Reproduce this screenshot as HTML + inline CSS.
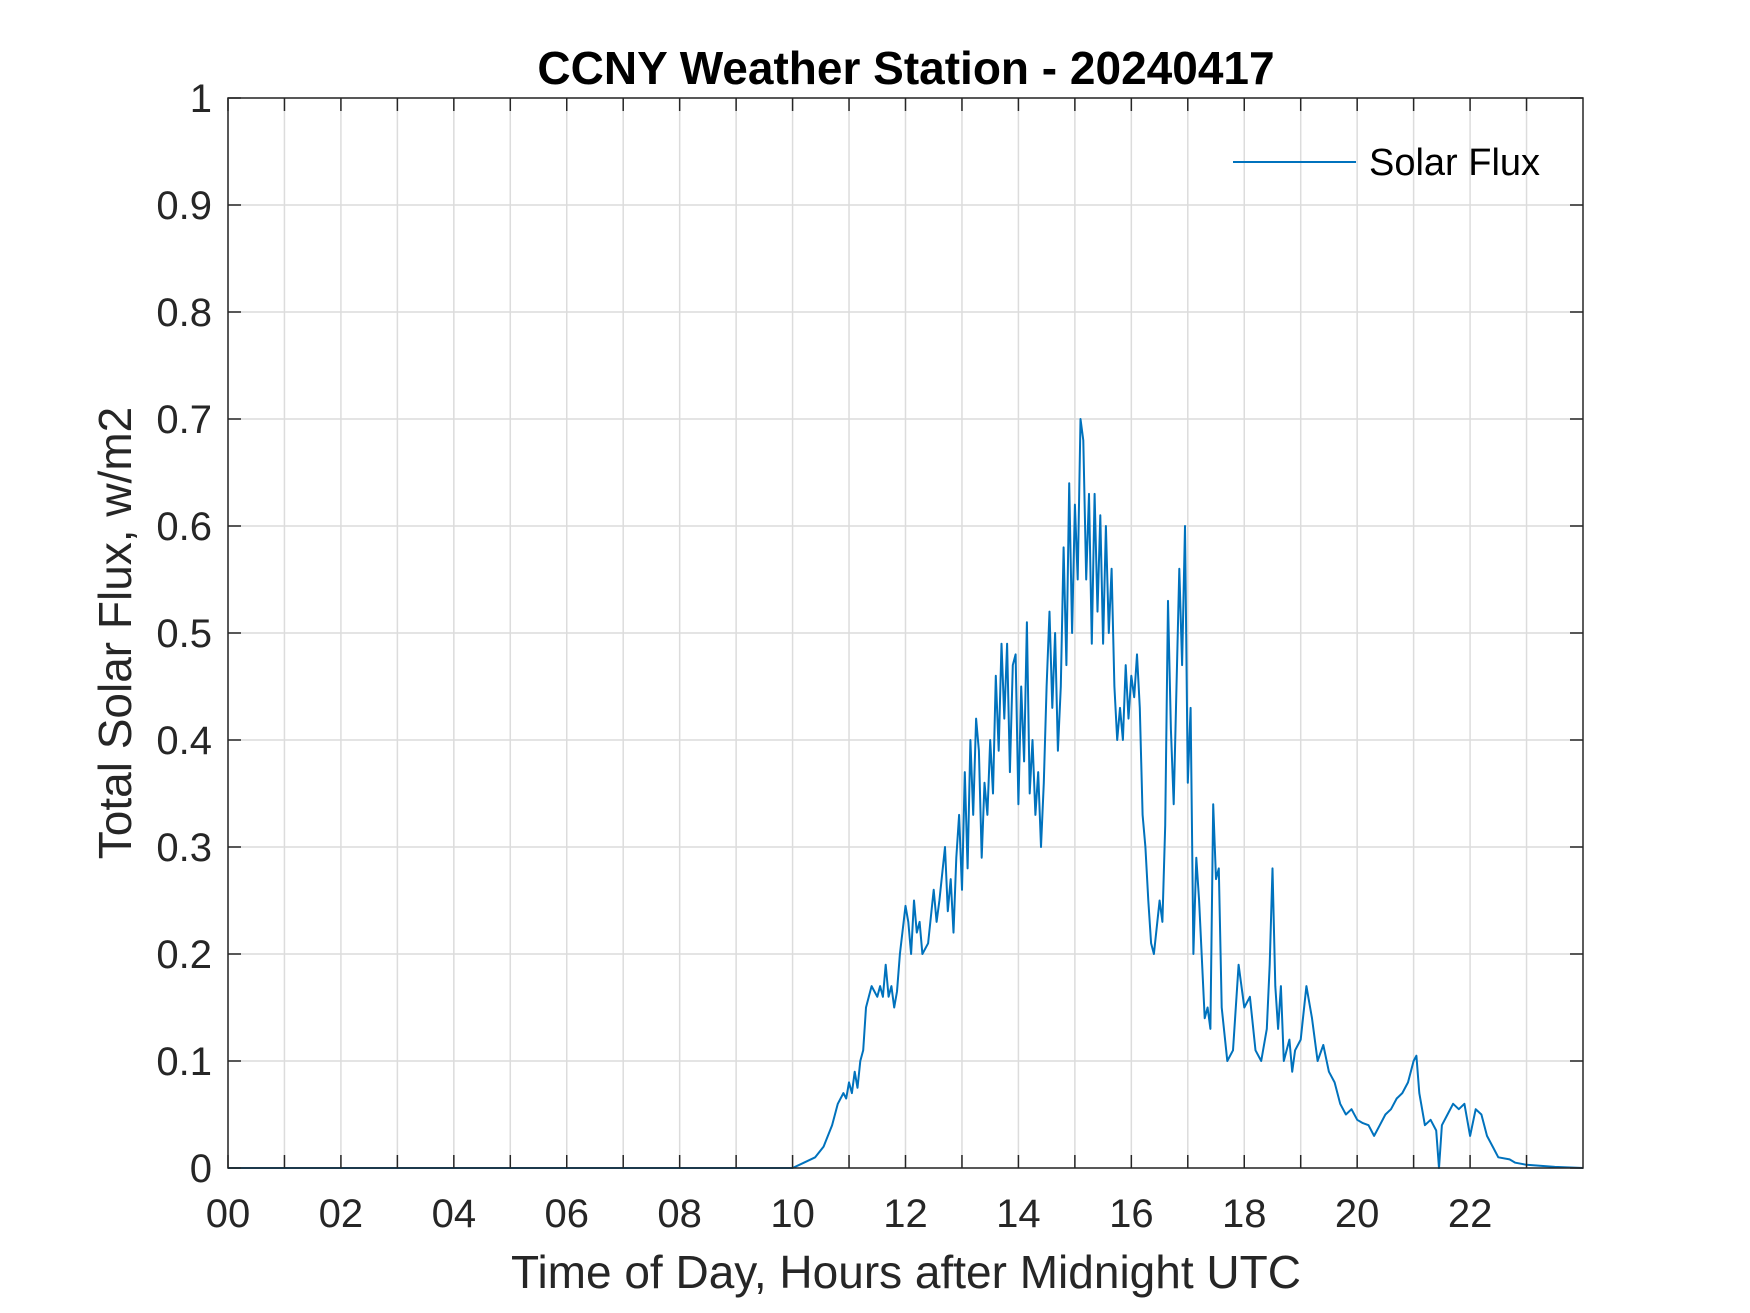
<!DOCTYPE html>
<html><head><meta charset="utf-8"><style>
html,body{margin:0;padding:0;background:#fff;}
svg{display:block;font-family:"Liberation Sans",Arial,sans-serif;}
</style></head><body>
<svg id="chart" width="1750" height="1313" viewBox="0 0 1750 1313">
<rect width="1750" height="1313" fill="#fff"/>
<g id="grid"></g>
<g id="series"></g>
<rect x="228" y="98" width="1355" height="1070" fill="none" stroke="#262626" stroke-width="1.5"/>
<g id="ticks"></g>
<text x="906" y="84" text-anchor="middle" font-size="46" font-weight="bold" fill="#000">CCNY Weather Station - 20240417</text>
<text x="906" y="1288" text-anchor="middle" font-size="46" fill="#262626">Time of Day, Hours after Midnight UTC</text>
<text transform="translate(131,633) rotate(-90)" text-anchor="middle" font-size="46" fill="#262626">Total Solar Flux, w/m2</text>
<g>
<line x1="1233" y1="162" x2="1356" y2="162" stroke="#0072bd" stroke-width="2"/>
<text x="1369" y="175" font-size="38" fill="#000">Solar Flux</text>
</g>
</svg>
<script>
const hours=[0,10,10.2,10.4,10.55,10.7,10.8,10.9,10.95,11,11.05,11.1,11.15,11.2,11.25,11.3,11.35,11.4,11.5,11.55,11.6,11.65,11.7,11.75,11.8,11.85,11.9,12,12.05,12.1,12.15,12.2,12.25,12.3,12.4,12.5,12.55,12.6,12.7,12.75,12.8,12.85,12.9,12.95,13,13.05,13.1,13.15,13.2,13.25,13.3,13.35,13.4,13.45,13.5,13.55,13.6,13.65,13.7,13.75,13.8,13.85,13.9,13.95,14,14.05,14.1,14.15,14.2,14.25,14.3,14.35,14.4,14.45,14.5,14.55,14.6,14.65,14.7,14.75,14.8,14.85,14.9,14.95,15,15.05,15.1,15.15,15.2,15.25,15.3,15.35,15.4,15.45,15.5,15.55,15.6,15.65,15.7,15.75,15.8,15.85,15.9,15.95,16,16.05,16.1,16.15,16.2,16.25,16.3,16.35,16.4,16.5,16.55,16.6,16.65,16.7,16.75,16.8,16.85,16.9,16.95,17,17.05,17.1,17.15,17.2,17.3,17.35,17.4,17.45,17.5,17.55,17.6,17.7,17.8,17.9,18,18.1,18.2,18.3,18.4,18.45,18.5,18.55,18.6,18.65,18.7,18.8,18.85,18.9,19,19.1,19.2,19.3,19.4,19.5,19.6,19.7,19.8,19.9,20,20.1,20.2,20.3,20.4,20.5,20.6,20.7,20.8,20.9,21,21.05,21.1,21.2,21.3,21.4,21.45,21.5,21.6,21.7,21.8,21.9,22,22.1,22.2,22.3,22.4,22.5,22.7,22.8,23,23.5,24];
const flux=[0,0,0.005,0.01,0.02,0.04,0.06,0.07,0.065,0.08,0.07,0.09,0.075,0.1,0.11,0.15,0.16,0.17,0.16,0.17,0.16,0.19,0.16,0.17,0.15,0.165,0.2,0.245,0.23,0.2,0.25,0.22,0.23,0.2,0.21,0.26,0.23,0.25,0.3,0.24,0.27,0.22,0.29,0.33,0.26,0.37,0.28,0.4,0.33,0.42,0.39,0.29,0.36,0.33,0.4,0.35,0.46,0.39,0.49,0.42,0.49,0.37,0.47,0.48,0.34,0.45,0.38,0.51,0.35,0.4,0.33,0.37,0.3,0.36,0.45,0.52,0.43,0.5,0.39,0.45,0.58,0.47,0.64,0.5,0.62,0.55,0.7,0.68,0.55,0.63,0.49,0.63,0.52,0.61,0.49,0.6,0.5,0.56,0.45,0.4,0.43,0.4,0.47,0.42,0.46,0.44,0.48,0.43,0.33,0.3,0.25,0.21,0.2,0.25,0.23,0.32,0.53,0.41,0.34,0.45,0.56,0.47,0.6,0.36,0.43,0.2,0.29,0.25,0.14,0.15,0.13,0.34,0.27,0.28,0.15,0.1,0.11,0.19,0.15,0.16,0.11,0.1,0.13,0.19,0.28,0.17,0.13,0.17,0.1,0.12,0.09,0.11,0.12,0.17,0.14,0.1,0.115,0.09,0.08,0.06,0.05,0.055,0.045,0.042,0.04,0.03,0.04,0.05,0.055,0.065,0.07,0.08,0.1,0.105,0.07,0.04,0.045,0.035,0,0.04,0.05,0.06,0.055,0.06,0.03,0.055,0.05,0.03,0.02,0.01,0.008,0.005,0.003,0.001,0];
const xTickLabels=["00","02","04","06","08","10","12","14","16","18","20","22"];
const yTickLabels=["0","0.1","0.2","0.3","0.4","0.5","0.6","0.7","0.8","0.9","1"];

const L=228,R=1583,T=98,B=1168;
const xs=h=>L+(h/24)*(R-L);
const ys=v=>B-v*(B-T);
const NS="http://www.w3.org/2000/svg";
const grid=document.getElementById('grid'),ticks=document.getElementById('ticks'),ser=document.getElementById('series');
function mk(tag,attrs,parent){const e=document.createElementNS(NS,tag);for(const k in attrs)e.setAttribute(k,attrs[k]);parent.appendChild(e);return e;}
for(let h=0;h<24;h++){
  const x=xs(h);
  const g=mk('line',{x1:x,y1:T,x2:x,y2:B,stroke:'#dcdcdc','stroke-width':1.5},grid);
  
  
  const t1=mk('line',{x1:x,y1:B,x2:x,y2:B-13,stroke:'#262626','stroke-width':1.5},ticks);
  
  
  const t2=mk('line',{x1:x,y1:T,x2:x,y2:T+13,stroke:'#262626','stroke-width':1.5},ticks);
  
  
}
xTickLabels.forEach((lab,i)=>{
  const t=mk('text',{x:xs(i*2),y:1227,'text-anchor':'middle','font-size':40,fill:'#262626'},ticks);
  t.textContent=lab;
  
  
});
yTickLabels.forEach((lab,i)=>{
  const v=parseFloat(lab),y=ys(v);
  const g=mk('line',{x1:L,y1:y,x2:R,y2:y,stroke:'#dcdcdc','stroke-width':1.5},grid);
  
  
  const a=mk('line',{x1:L,y1:y,x2:L+13,y2:y,stroke:'#262626','stroke-width':1.5},ticks);
  
  
  const b=mk('line',{x1:R,y1:y,x2:R-13,y2:y,stroke:'#262626','stroke-width':1.5},ticks);
  
  
  const t=mk('text',{x:212,y:y+14,'text-anchor':'end','font-size':40,fill:'#262626'},ticks);
  t.textContent=lab;
  
  
});
const pts=hours.map((h,i)=>xs(h).toFixed(1)+','+ys(flux[i]).toFixed(1)).join(' ');
const pl=mk('polyline',{points:pts,fill:'none',stroke:'#0072bd','stroke-width':2,'stroke-linejoin':'round'},ser);


</script>
</body></html>
